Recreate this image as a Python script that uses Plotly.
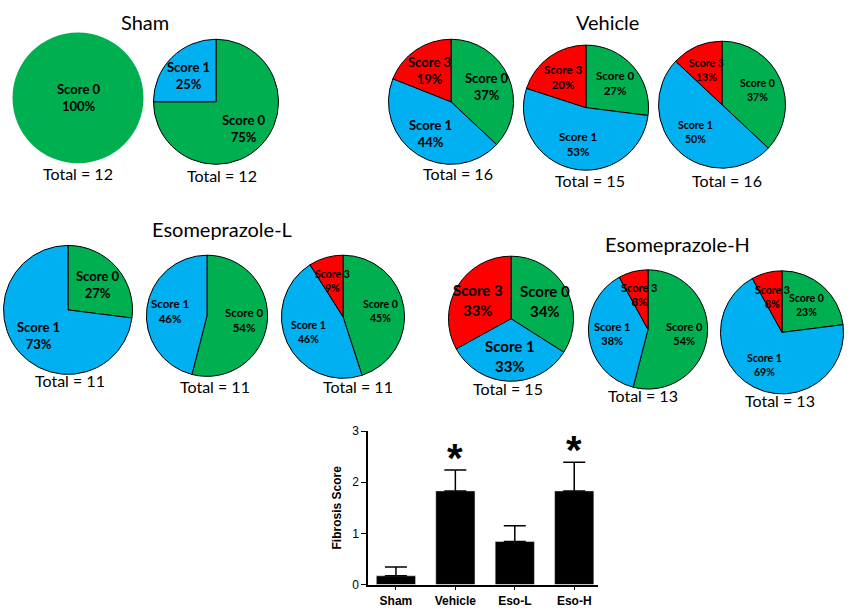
import math
import plotly.graph_objects as go

# ---- data ----
score_colors = {'Score 0': '#00b050', 'Score 1': '#00b0f0', 'Score 3': '#ff0000'}

sham_1_labels = ['Score 0']
sham_1_pct = [100]
sham_2_labels = ['Score 0', 'Score 1']
sham_2_pct = [75, 25]

vehicle_1_labels = ['Score 0', 'Score 1', 'Score 3']
vehicle_1_pct = [37, 44, 19]
vehicle_2_labels = ['Score 0', 'Score 1', 'Score 3']
vehicle_2_pct = [27, 53, 20]
vehicle_3_labels = ['Score 0', 'Score 1', 'Score 3']
vehicle_3_pct = [37, 50, 13]

esoL_1_labels = ['Score 0', 'Score 1']
esoL_1_pct = [27, 73]
esoL_2_labels = ['Score 0', 'Score 1']
esoL_2_pct = [54, 46]
esoL_3_labels = ['Score 0', 'Score 1', 'Score 3']
esoL_3_pct = [45, 46, 9]

esoH_1_labels = ['Score 0', 'Score 1', 'Score 3']
esoH_1_pct = [34, 33, 33]
esoH_2_labels = ['Score 0', 'Score 1', 'Score 3']
esoH_2_pct = [54, 38, 8]
esoH_3_labels = ['Score 0', 'Score 1', 'Score 3']
esoH_3_pct = [23, 69, 8]

totals = [12, 12, 16, 15, 16, 11, 11, 11, 15, 13, 13]
group_titles = ['Sham', 'Vehicle', 'Esomeprazole-L', 'Esomeprazole-H']

bar_groups = ['Sham', 'Vehicle', 'Eso-L', 'Eso-H']
bar_means = [0.17, 1.83, 0.84, 1.83]
bar_sem = [0.17, 0.41, 0.31, 0.56]
bar_signif = [False, True, False, True]

pies = [
    (sham_1_labels, sham_1_pct), (sham_2_labels, sham_2_pct),
    (vehicle_1_labels, vehicle_1_pct), (vehicle_2_labels, vehicle_2_pct), (vehicle_3_labels, vehicle_3_pct),
    (esoL_1_labels, esoL_1_pct), (esoL_2_labels, esoL_2_pct), (esoL_3_labels, esoL_3_pct),
    (esoH_1_labels, esoH_1_pct), (esoH_2_labels, esoH_2_pct), (esoH_3_labels, esoH_3_pct),
]

# ---- layout (pixels) ----
W, H = 856, 613
# pie centre x, centre y, radius, label font size
pie_pos = [
    (78, 93, 67, 13), (216, 97, 64, 13),
    (451, 97, 64, 13), (586, 103, 64, 11.5), (722, 100, 65, 10.5),
    (68, 310, 66, 13), (207, 316, 62, 11.5), (343, 317, 63, 10.5),
    (511, 319, 64, 15), (648, 330, 61, 11), (782, 333, 63, 10.5),
]
total_pos = [(78, 170), (222, 172), (458, 170), (590, 178), (727, 178),
             (70, 382), (215, 388), (358, 388), (508, 390), (643, 398), (780, 403)]
title_pos = [(145, 15), (607, 15), (222, 227), (677, 243)]
LABEL_R = 0.6  # slice labels sit at this fraction of the radius, like in the original

fig = go.Figure()
annotations = []

for i, (labels, pct) in enumerate(pies):
    cx, cy, r, fs = pie_pos[i]
    fig.add_trace(go.Pie(
        labels=labels, values=pct, sort=False, direction='clockwise', rotation=0,
        marker=dict(colors=[score_colors[l] for l in labels],
                    line=dict(color='black', width=0 if i == 0 else 1)),
        textinfo='none',
        domain=dict(x=[(cx - r) / W, (cx + r) / W], y=[1 - (cy + r) / H, 1 - (cy - r) / H]),
        showlegend=False, hoverinfo='label+percent',
    ))
    # labels overflow the thin slices in the original, so place them by hand
    start = 0
    for l, p in zip(labels, pct):
        mid = (start + p / 2) / 100 * 2 * math.pi  # clockwise from 12 o'clock
        rr = 0 if p == 100 else LABEL_R * r
        ax = cx + rr * math.sin(mid)
        ay = cy - rr * math.cos(mid)
        annotations.append(dict(x=ax / W, y=1 - ay / H, xref='paper', yref='paper',
                                xanchor='center', yanchor='middle', showarrow=False,
                                text=f'<b>{l}<br>{p}%</b>',
                                font=dict(family='Lato', size=fs, color='black')))
        start += p

for (x, y), t in zip(title_pos, group_titles):
    annotations.append(dict(x=x / W, y=1 - y / H, xref='paper', yref='paper', text=t,
                            xanchor='center', yanchor='middle', showarrow=False,
                            font=dict(family='Lato', size=20, color='black')))
for (x, y), n in zip(total_pos, totals):
    annotations.append(dict(x=x / W, y=1 - y / H, xref='paper', yref='paper', text=f'Total = {n}',
                            xanchor='center', yanchor='middle', showarrow=False,
                            font=dict(family='Lato', size=16, color='black')))

# ---- bar chart ----
fig.add_trace(go.Bar(
    x=bar_groups, y=bar_means, width=0.66, marker=dict(color='black'),
    error_y=dict(type='data', symmetric=False, array=bar_sem, arrayminus=[0] * len(bar_sem),
                 color='black', thickness=1.5, width=11),
    xaxis='x', yaxis='y', showlegend=False,
))
for g, m, s, sig in zip(bar_groups, bar_means, bar_sem, bar_signif):
    if sig:
        annotations.append(dict(x=g, y=m + s, xref='x', yref='y', text='<b>*</b>', showarrow=False,
                                xanchor='center', yanchor='bottom', yshift=-12,
                                font=dict(family='Liberation Sans', size=40, color='black')))

fig.update_layout(
    width=W, height=H, margin=dict(l=0, r=0, t=0, b=0),
    paper_bgcolor='white', plot_bgcolor='white',
    annotations=annotations,
    xaxis=dict(domain=[368 / W, 598 / W], range=[-0.47, 3.4], showline=True, linecolor='black',
               linewidth=1.5, ticks='outside', ticklen=4, tickcolor='black', showgrid=False,
               tickfont=dict(family='Liberation Sans', size=12, color='black'),
               tickprefix='<b>', ticksuffix='</b>'),
    yaxis=dict(domain=[1 - 591 / H, 1 - 434 / H], range=[0, 3], tickvals=[0, 1, 2, 3],
               showline=True, linecolor='black', linewidth=1.5, ticks='outside', ticklen=5,
               tickcolor='black', showgrid=False, zeroline=False,
               tickfont=dict(family='Liberation Sans', size=12, color='black'),
               tickprefix='<b>', ticksuffix='</b>',
               title=dict(text='<b>Fibrosis Score</b>', standoff=8,
                          font=dict(family='Liberation Sans', size=12, color='black'))),
)

# the page body has a default 8px margin; drop it so the figure fills the window
fig.write_html('out.html', config={'displayModeBar': False},
               post_script="document.body.style.margin='0';")
